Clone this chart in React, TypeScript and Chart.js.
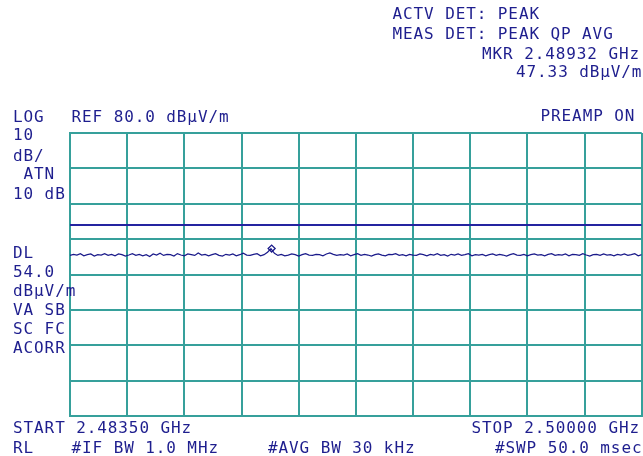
import React, { useEffect, useRef } from "react";
import { Chart, registerables } from "chart.js";

Chart.register(...registerables);

// Sweep (MHz)
const START_MHZ = 2483.5;
const STOP_MHZ = 2500.0;
const STEP_MHZ = 0.1;

// Vertical scale (dBµV/m)
const REF_LEVEL = 80;
const BOTTOM_LEVEL = 0;
const DISPLAY_LINE = 54.0;

// Marker
const MKR_FREQ = 2489.32;
const MKR_LEVEL = 47.33;

// Grid divisions
const X_GRID = [2483.5, 2485.15, 2486.8, 2488.45, 2490.1, 2491.75, 2493.4, 2495.05, 2496.7, 2498.35, 2500.0];
const Y_GRID = [0, 10, 20, 30, 40, 50, 60, 70, 80];

// Trace values (dBµV/m), one per 0.1 MHz step
const TRACE = [
  45.4, 45.7, 45.5, 45.9, 45.3, 45.6, 45.8, 45.2, 45.6, 45.5, 45.9, 45.4, 45.7, 45.3, 45.8, 45.6, 45.2, 45.5, 45.9, 45.4,
  45.7, 45.3, 45.6, 45.1, 45.8, 45.5, 46.0, 45.4, 45.7, 45.6, 45.2, 45.9, 45.5, 45.3, 45.8, 45.6, 45.4, 46.1, 45.5, 45.7,
  45.3, 45.6, 45.9, 45.4, 45.2, 45.7, 45.5, 45.8, 45.3, 45.6, 46.0, 45.5, 45.4, 45.7, 45.9, 45.3, 45.6, 46.3, 47.3, 46.0,
  45.4, 45.7, 45.3, 45.5, 45.8, 45.6, 45.2, 45.6, 45.9, 45.5, 45.4, 45.7, 45.6, 45.3, 45.8, 46.1, 45.7, 45.4, 45.6, 45.5,
  45.8, 45.3, 45.6, 45.9, 45.4, 45.7, 45.5, 45.2, 45.6, 45.8, 45.5, 45.3, 45.7, 45.6, 45.9, 45.4, 45.6, 45.3, 45.7, 45.5,
  45.4, 45.8, 45.6, 45.3, 45.7, 45.5, 45.9, 45.4, 45.6, 45.2, 45.7, 45.5, 45.8, 45.4, 45.6, 45.9, 45.3, 45.6, 45.5, 45.7,
  45.3, 45.6, 45.8, 45.4, 45.7, 45.5, 45.2, 45.6, 45.9, 45.5, 45.4, 45.7, 45.3, 45.6, 45.8, 45.5, 45.6, 45.3, 45.7, 45.9,
  45.4, 45.6, 45.5, 45.8, 45.3, 45.7, 45.6, 45.4, 45.9, 45.5, 45.2, 45.6, 45.7, 45.4, 45.8, 45.5, 45.6, 45.3, 45.7, 45.5,
  45.8, 45.4, 45.6, 45.9, 45.3, 45.6,
];

const TEXT_COLOR = "#1e1e8e";
const GRID_COLOR = "#36a09b";
const TRACE_COLOR = "#1a1a8a";
const DL_COLOR = "#2424a0";

type Label = { text: string; x: number; top: number };

const LABELS: Label[] = [
  { text: "ACTV DET: PEAK", x: 392.5, top: 7.5 },
  { text: "MEAS DET: PEAK QP AVG", x: 392.5, top: 28 },
  { text: "MKR 2.48932 GHz", x: 482, top: 48 },
  { text: "47.33 dBµV/m", x: 516, top: 66 },
  { text: "LOG", x: 13, top: 111 },
  { text: "REF 80.0 dBµV/m", x: 71.5, top: 111 },
  { text: "PREAMP ON", x: 540.5, top: 110 },
  { text: "10", x: 13, top: 129 },
  { text: "dB/", x: 13, top: 150 },
  { text: " ATN", x: 13, top: 168 },
  { text: "10 dB", x: 13, top: 188 },
  { text: "DL", x: 13, top: 247 },
  { text: "54.0", x: 13, top: 266 },
  { text: "dBµV/m", x: 13, top: 285 },
  { text: "VA SB", x: 13, top: 304 },
  { text: "SC FC", x: 13, top: 323 },
  { text: "ACORR", x: 13, top: 342 },
  { text: "START 2.48350 GHz", x: 13, top: 422 },
  { text: "STOP 2.50000 GHz", x: 471.5, top: 422 },
  { text: "RL", x: 13, top: 442 },
  { text: "#IF BW 1.0 MHz", x: 71.5, top: 442 },
  { text: "#AVG BW 30 kHz", x: 268, top: 442 },
  { text: "#SWP 50.0 msec", x: 495, top: 442 },
];

export default function App() {
  const canvasRef = useRef<HTMLCanvasElement | null>(null);

  useEffect(() => {
    if (!canvasRef.current) return;
    const tracePoints = TRACE.map((v, i) => ({ x: START_MHZ + i * STEP_MHZ, y: v }));
    const chart = new Chart(canvasRef.current, {
      type: "line",
      data: {
        datasets: [
          {
            label: "DL",
            data: [
              { x: START_MHZ, y: DISPLAY_LINE },
              { x: STOP_MHZ, y: DISPLAY_LINE },
            ],
            borderColor: DL_COLOR,
            borderWidth: 2,
            pointRadius: 0,
          },
          {
            label: "Trace",
            data: tracePoints,
            borderColor: TRACE_COLOR,
            borderWidth: 1.2,
            pointRadius: 0,
            tension: 0,
          },
          {
            label: "MKR",
            data: [{ x: MKR_FREQ, y: MKR_LEVEL }],
            showLine: false,
            pointStyle: "rectRot",
            pointRadius: 3.5,
            pointBorderWidth: 1.3,
            pointBorderColor: TRACE_COLOR,
            pointBackgroundColor: "#ffffff",
          },
        ],
      },
      options: {
        animation: false,
        responsive: false,
        devicePixelRatio: 1,
        layout: { padding: { left: 70, top: 133, right: 1, bottom: 40 } },
        plugins: { legend: { display: false }, tooltip: { enabled: false } },
        scales: {
          x: {
            type: "linear",
            min: START_MHZ,
            max: STOP_MHZ,
            afterBuildTicks: (s: any) => {
              s.ticks = X_GRID.map((v) => ({ value: v }));
            },
            ticks: { display: false },
            grid: { color: GRID_COLOR, lineWidth: 2, drawTicks: false },
            border: { display: true, color: GRID_COLOR, width: 2 },
          },
          y: {
            type: "linear",
            min: BOTTOM_LEVEL,
            max: REF_LEVEL,
            afterBuildTicks: (s: any) => {
              s.ticks = Y_GRID.map((v) => ({ value: v }));
            },
            ticks: { display: false },
            grid: { color: GRID_COLOR, lineWidth: 2, drawTicks: false },
            border: { display: true, color: GRID_COLOR, width: 2 },
          },
        },
      },
    });
    return () => chart.destroy();
  }, []);

  return (
    <div
      style={{
        position: "absolute",
        left: 0,
        top: 0,
        width: 643,
        height: 456,
        background: "#ffffff",
        overflow: "hidden",
      }}
    >
      <canvas
        ref={canvasRef}
        width={647}
        height={456}
        style={{ position: "absolute", left: 0, top: 0, width: 647, height: 456 }}
      />
      {LABELS.map((l, i) => (
        <div
          key={i}
          style={{
            position: "absolute",
            left: l.x,
            top: l.top - 2,
            fontFamily: "'DejaVu Sans Mono', monospace",
            fontSize: 16,
            lineHeight: "16px",
            letterSpacing: "0.9px",
            color: TEXT_COLOR,
            whiteSpace: "pre",
          }}
        >
          {l.text}
        </div>
      ))}
    </div>
  );
}
